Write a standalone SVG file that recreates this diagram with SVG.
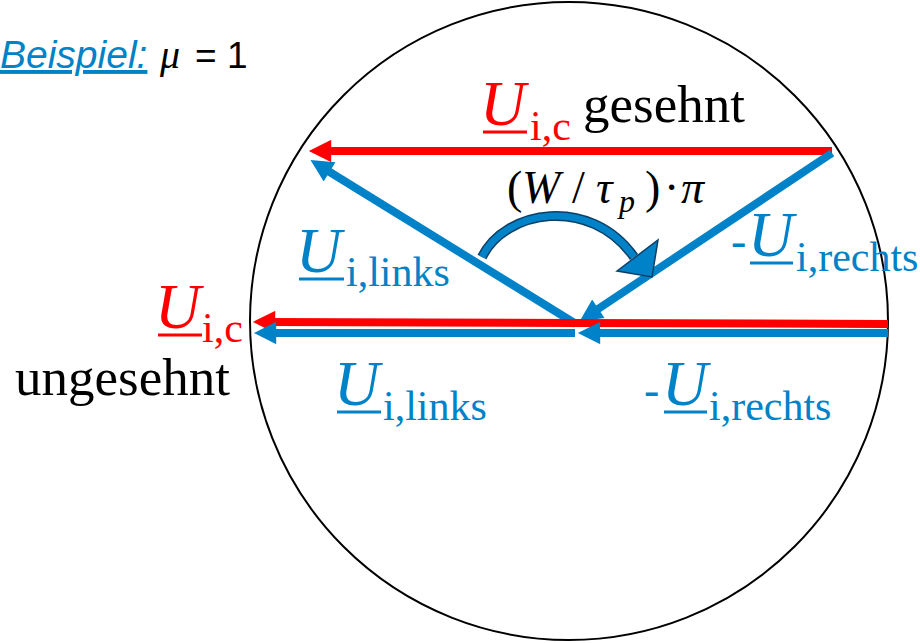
<svg xmlns="http://www.w3.org/2000/svg" width="920" height="643" viewBox="0 0 920 643">
<defs>
<marker id="ahR" viewBox="0 0 10 10" refX="5" refY="5" markerWidth="3.2" markerHeight="2.8" orient="auto" markerUnits="strokeWidth"><path d="M0,0 L10,5 L0,10 z" fill="#FF0000"/></marker>
<marker id="ahB" viewBox="0 0 10 10" refX="5" refY="5" markerWidth="3.2" markerHeight="2.8" orient="auto" markerUnits="strokeWidth"><path d="M0,0 L10,5 L0,10 z" fill="#0082C8"/></marker>
</defs>
<style>
.red{stroke:#FF0000;stroke-width:8;fill:none}
.blue{stroke:#0082C8;stroke-width:8;fill:none}
.tnr{font-family:"Liberation Serif","Times New Roman",serif}
.arial{font-family:"Liberation Sans",Arial,sans-serif}
.U{font-style:italic;font-size:63px}
.sub{font-size:42px}
.big{font-size:53px}
.dash{font-size:46px}
</style>
<rect width="920" height="643" fill="#fff"/>
<g id="circle"><circle cx="569" cy="321" r="319" fill="none" stroke="#000" stroke-width="2"/></g>
<g id="connectors">
<path class="red" d="M832,151 L320,151" marker-end="url(#ahR)"/>
<path class="blue" d="M576,324 L320,166" marker-end="url(#ahB)"/>
<path class="blue" d="M832,153 L589,315" marker-end="url(#ahB)"/>
<path class="red" d="M888,324 L575,323 L264,322" marker-end="url(#ahR)"/>
<path class="blue" d="M575,333 L265,333" marker-end="url(#ahB)"/>
<path class="blue" d="M888,333 L589,333" marker-end="url(#ahB)"/>
<g id="curved-arrow">
<path d="M482,257 C505,210 590,195 634,257" fill="none" stroke="#0B3F66" stroke-width="10"/>
<path d="M482,257 C505,210 590,195 634,257" fill="none" stroke="#0082C8" stroke-width="7"/>
<polygon points="617,271 658,240 652,277" fill="#0082C8" stroke="#0B3F66" stroke-width="1.5"/>
</g>
</g>
<g id="beispiel">
<text x="0" y="68" class="arial" font-size="39" font-style="italic" fill="#0082C8" text-decoration="underline">Beispiel:</text>
<text x="160" y="68" class="tnr" font-size="40" font-style="italic" fill="#000">μ</text>
<text x="195" y="68" class="arial" font-size="37" fill="#000">= 1</text>
</g>
<g id="label-uic-gesehnt">
<text x="480" y="125" class="tnr U" fill="#FF0000">U</text>
<line x1="483" y1="132" x2="527" y2="132" stroke="#FF0000" stroke-width="3"/>
<text x="530" y="140" class="tnr sub" fill="#FF0000">i,c</text>
<text x="583" y="122" class="tnr big" fill="#000">gesehnt</text>
</g>
<g id="label-angle">
<text y="203" class="tnr" font-size="46" fill="#000"><tspan x="507">(</tspan><tspan x="522" font-style="italic">W</tspan><tspan x="572">/</tspan><tspan x="596" font-style="italic">τ</tspan><tspan x="619" y="212" font-size="32" font-style="italic">p</tspan><tspan x="645" y="203">)</tspan><tspan x="664">·</tspan><tspan x="681" font-style="italic">π</tspan></text>
</g>
<g id="label-links-top">
<text x="296" y="272" class="tnr U" fill="#0082C8">U</text>
<line x1="299" y1="279" x2="344" y2="279" stroke="#0082C8" stroke-width="3"/>
<text x="346" y="286" class="tnr sub" fill="#0082C8">i,links</text>
</g>
<g id="label-rechts-top">
<text x="731" y="256" class="tnr dash" fill="#0082C8">-</text>
<text x="748" y="256" class="tnr U" fill="#0082C8">U</text>
<line x1="750" y1="263" x2="793" y2="263" stroke="#0082C8" stroke-width="3"/>
<text x="796" y="271" class="tnr sub" fill="#0082C8">i,rechts</text>
</g>
<g id="label-uic-ungesehnt">
<text x="155" y="328" class="tnr U" fill="#FF0000">U</text>
<line x1="158" y1="335" x2="202" y2="335" stroke="#FF0000" stroke-width="3"/>
<text x="202" y="342" class="tnr sub" fill="#FF0000">i,c</text>
<text x="15" y="395" class="tnr big" fill="#000">ungesehnt</text>
</g>
<g id="label-links-bottom">
<text x="334" y="405" class="tnr U" fill="#0082C8">U</text>
<line x1="337" y1="412" x2="381" y2="412" stroke="#0082C8" stroke-width="3"/>
<text x="383" y="420" class="tnr sub" fill="#0082C8">i,links</text>
</g>
<g id="label-rechts-bottom">
<text x="644" y="405" class="tnr dash" fill="#0082C8">-</text>
<text x="662" y="405" class="tnr U" fill="#0082C8">U</text>
<line x1="664" y1="412" x2="707" y2="412" stroke="#0082C8" stroke-width="3"/>
<text x="709" y="420" class="tnr sub" fill="#0082C8">i,rechts</text>
</g>
</svg>
